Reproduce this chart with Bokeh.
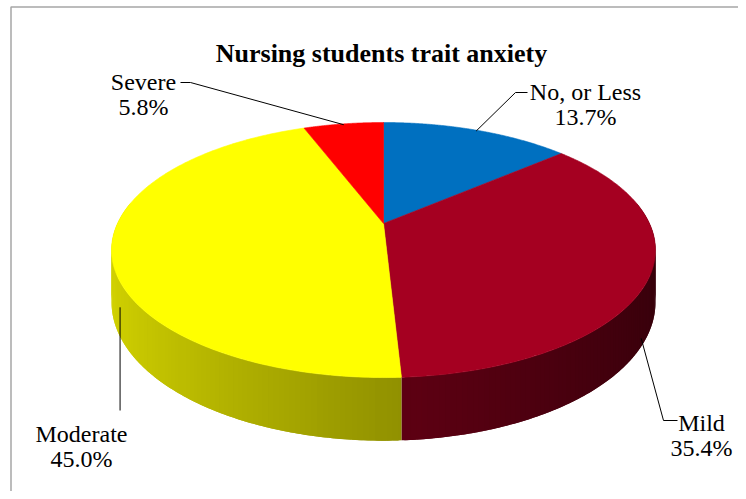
import numpy as np
from bokeh.plotting import figure
from bokeh.models import Range1d
from bokeh.core.properties import value
from bokeh.embed import file_html
from bokeh.resources import INLINE

# ---- data ----
title = "Nursing students trait anxiety"
categories = ["No, or Less", "Mild", "Moderate", "Severe"]
values = [13.7, 35.4, 45.0, 5.8]
top_colors = ["#0070C0", "#A50021", "#FFFF00", "#FF0000"]

# ---- layout / projection constants (pixel space of the picture) ----
CX, CY = 383.0, 223.0      # apex of the pie on screen
S, K = 266.0, 122.0        # horizontal / vertical radii
D = 0.208                  # perspective strength
H = 50.0                   # thickness of the pie
FONT = "Liberation Serif"
W, HT = 738, 491


def proj(phi_deg, r=1.0):
    phi = np.radians(phi_deg)
    u = r * np.sin(phi)
    v = r * np.cos(phi)
    w = 1.0 + D * v
    return CX + S * u / w, CY - K * v / w, w


def hex_color(c):
    c = c.lstrip("#")
    return tuple(int(c[i:i + 2], 16) for i in (0, 2, 4))


def shade(c, f):
    r, g, b = hex_color(c)
    return "#%02x%02x%02x" % tuple(max(0, min(255, int(round(x * f)))) for x in (r, g, b))


total = sum(values)
starts, ends = [], []
acc = 0.0
for v in values:
    starts.append(acc / total * 360.0)
    acc += v
    ends.append(acc / total * 360.0)

p = figure(width=W, height=HT, output_backend="svg", toolbar_location=None,
           x_range=Range1d(0, W), y_range=Range1d(HT, 0), min_border=0)
p.axis.visible = False
p.grid.visible = False
p.outline_line_color = None
p.background_fill_color = "white"

# chart area frame (left and top edges visible)
p.line([10.5, 10.5, W + 5], [HT + 5, 6.5, 6.5], line_color="#A6A6A6", line_width=1.5)

# ---- side walls (only the front half is visible) ----
walls = []
OV = 0.5  # angular overlap to hide seams between strips
for i in range(len(values)):
    a0, a1 = max(starts[i], 80.0), min(ends[i], 280.0)
    if a1 <= a0:
        continue
    n = max(2, int((a1 - a0) / 1.0))
    angs = np.linspace(a0, a1, n + 1)
    for j in range(n):
        b0 = max(a0, angs[j] - OV)
        b1 = min(a1, angs[j + 1] + OV)
        arc = np.linspace(b0, b1, 4)
        xt, yt, wt = proj(arc)
        xs = list(xt) + list(xt[::-1])
        ys = list(yt) + list((yt + H / wt)[::-1])
        mid = np.radians((angs[j] + angs[j + 1]) / 2)
        u = np.sin(mid)
        vv = np.cos(mid)
        f = 0.58 - 0.25 * u
        col = shade(top_colors[i], f)
        walls.append((vv, xs, ys, col))
walls.sort(key=lambda t: -t[0])
p.patches([w[1] for w in walls], [w[2] for w in walls],
          fill_color=[w[3] for w in walls], line_color=None)

# ---- top faces ----
xs_top, ys_top = [], []
for i in range(len(values)):
    angs = np.linspace(starts[i], ends[i], 200)
    xx, yy, _ = proj(angs)
    xs_top.append([CX] + list(xx))
    ys_top.append([CY] + list(yy))
p.patches(xs_top, ys_top, fill_color=top_colors, line_color=top_colors, line_width=0.6)

# ---- title ----
p.text(x=[381], y=[53], text=[title], text_font=value(FONT), text_font_size="26px",
       text_font_style="bold", text_align="center", text_baseline="alphabetic",
       text_color="black")

# ---- labels and leader lines ----
mids = [(s + e) / 2 for s, e in zip(starts, ends)]
label_pos = {  # centre x, baseline of first line
    "No, or Less": (585, 91),
    "Mild": (701, 422),
    "Moderate": (81, 433),
    "Severe": (143, 81),
}
lx, ly, lt = [], [], []
for cat, val in zip(categories, values):
    x0, y0 = label_pos[cat]
    lx += [x0, x0]
    ly += [y0, y0 + 25]
    lt += [cat, "%.1f%%" % val]
p.text(x=lx, y=ly, text=lt, text_font=value(FONT), text_font_size="24px",
       text_align="center", text_baseline="alphabetic", text_color="black")

# leader anchors from the pie geometry
# No, or Less : top rim at mid angle
ax, ay, _ = proj(mids[0], 0.99)
p.line([ax, 515, 527], [ay, 92, 92], line_color="black", line_width=1)
# Severe : top rim at mid angle
ax, ay, _ = proj(mids[3], 0.99)
p.line([ax, 190, 180], [ay, 82, 82], line_color="black", line_width=1)
# Mild : bottom of wall at mid angle
ax, ay, aw = proj(mids[1], 0.97)
p.line([ax, 663, 677], [ay + H / aw + 10, 420, 420], line_color="black", line_width=1)
# Moderate : bottom of wall at mid angle
ax, ay, aw = proj(mids[2], 0.97)
p.line([ax, ax], [ay + H / aw + 6, 410], line_color="black", line_width=1)

open("out.html", "w").write(file_html(p, INLINE))
